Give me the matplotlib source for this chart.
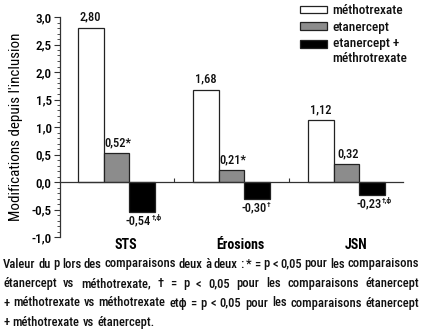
import matplotlib
matplotlib.use("Agg")
import matplotlib.pyplot as plt
from matplotlib import font_manager
from matplotlib.ticker import MultipleLocator, FuncFormatter, FixedLocator
from matplotlib.patches import Patch, Rectangle
from matplotlib.legend_handler import HandlerPatch
import numpy as np

# ---------------- data ----------------
categories = ["STS", "Érosions", "JSN"]
series_names = ["méthotrexate", "etanercept", "etanercept +\nméthrotrexate"]
mtx = [2.80, 1.68, 1.12]
eta = [0.52, 0.21, 0.32]
combo = [-0.54, -0.30, -0.23]
eta_marks = ["*", "*", ""]
combo_marks = ["†,ϕ", "†", "†,ϕ"]
ylabel = "Modifications depuis l'inclusion"
caption_lines = [
    "Valeur du p lors des comparaisons deux à deux : * = p < 0,05 pour les comparaisons",
    "étanercept vs méthotrexate, † = p < 0,05 pour les comparaisons étanercept",
    "+ méthotrexate vs méthotrexate etϕ = p < 0,05 pour les comparaisons étanercept",
    "+ méthotrexate vs étanercept.",
]

# ---------------- fonts ----------------
avail = {f.name for f in font_manager.fontManager.ttflist}
prefs = ["Liberation Sans Narrow", "Arial Narrow", "Roboto Condensed", "Archivo Narrow",
         "PT Sans Narrow", "Fira Sans Condensed", "IBM Plex Sans Condensed",
         "Open Sans Condensed", "Encode Sans Condensed", "Barlow Semi Condensed",
         "Liberation Sans"]
main = next(p for p in prefs if p in avail) if any(p in avail for p in prefs) else "DejaVu Sans"
FAM = [main, "DejaVu Sans"]
plt.rcParams["font.family"] = FAM
plt.rcParams["font.weight"] = 500
plt.rcParams["text.color"] = "#111111"

W, H = 421, 335
fig = plt.figure(figsize=(W / 100, H / 100), dpi=100)
ax = fig.add_axes([60 / W, 1 - 237 / H, (403 - 60) / W, (237 - 17) / H])

x = np.arange(len(categories))
bw = 0.223
colors = ["white", "#8c8c8c", "black"]
edge = "#222222"
vals = [mtx, eta, combo]
offs = [-bw, 0, bw]
bars = []
for v, o, c in zip(vals, offs, colors):
    bars.append(ax.bar(x + o, v, bw, color=c, edgecolor=edge, linewidth=0.9, zorder=2))

fs_val = 9
# value labels
for i, r in enumerate(bars[0]):
    ax.annotate(f"{mtx[i]:.2f}".replace(".", ","), (r.get_x() + r.get_width() / 2, mtx[i]),
                xytext=(0, 3), textcoords="offset points", ha="center", va="bottom", fontsize=fs_val)
for i, r in enumerate(bars[1]):
    ax.annotate(f"{eta[i]:.2f}".replace(".", ",") + eta_marks[i],
                (r.get_x() + r.get_width() / 2 + 0.01, eta[i]),
                xytext=(0, 3), textcoords="offset points", ha="center", va="bottom", fontsize=fs_val)
for i, r in enumerate(bars[2]):
    t = ax.annotate(f"{combo[i]:.2f}".replace(".", ","),
                    (r.get_x() + r.get_width() / 2 - 0.03, combo[i]),
                    xytext=(0, -2), textcoords="offset points", ha="center", va="top", fontsize=fs_val)
    ax.annotate(combo_marks[i], xy=(1, 1), xycoords=t, xytext=(0.3, 0.5), textcoords="offset points",
                ha="left", va="top", fontsize=5.5)

# axes styling
ax.set_xlim(-0.49, 2.49)
ax.set_ylim(-1.0, 3.0)
for s in ["top", "right"]:
    ax.spines[s].set_visible(False)
ax.spines["bottom"].set_position(("data", 0))
for s in ["left", "bottom"]:
    ax.spines[s].set_color("#333333")
    ax.spines[s].set_linewidth(0.9)
ax.yaxis.set_major_locator(MultipleLocator(0.5))
ax.yaxis.set_minor_locator(MultipleLocator(0.1))
ax.yaxis.set_major_formatter(FuncFormatter(lambda v, p: f"{v:.1f}".replace(".", ",")))
ax.tick_params(axis="y", which="major", length=4, width=0.8, labelsize=9.5, pad=2, color="#333333")
ax.tick_params(axis="y", which="minor", length=2, width=0.6, color="#333333")
ax.xaxis.set_major_locator(FixedLocator([0.5, 1.5]))
ax.xaxis.set_ticklabels([])
ax.tick_params(axis="x", which="major", direction="in", length=3, width=0.8, color="#333333")
ax.set_ylabel(ylabel, fontsize=10.8, labelpad=6)

sec = ax.secondary_xaxis(0.0)
sec.set_xticks(x + 0.08)
sec.set_xticklabels(categories, fontsize=10, fontweight="bold")
sec.tick_params(length=0, pad=1)
sec.spines["bottom"].set_visible(False)


# legend (two-line entry: box aligned with its first line)
def shifted_box(legend, orig_handle, xdescent, ydescent, width, height, fontsize):
    return Rectangle((-xdescent, -ydescent + 0.55 * fontsize), width, height)


handles = [Patch(facecolor=c, edgecolor=edge, linewidth=0.9) for c in colors]
leg = fig.legend(handles, series_names, loc="upper left", bbox_to_anchor=(295 / W, 1 + 1 / H),
                 frameon=False, fontsize=9.5, handlelength=2.0, handleheight=0.5,
                 handletextpad=0.45, labelspacing=0.25, borderaxespad=0,
                 handler_map={handles[2]: HandlerPatch(patch_func=shifted_box)})

# caption (justified)
left_px, right_px = 3, 419
baselines = [267.5, 287, 306.5, 326]
renderer = fig.canvas.get_renderer()


def measure(s, fs):
    t = fig.text(0, 0, s, fontsize=fs)
    w = t.get_window_extent(renderer).width
    t.remove()
    return w


# size the caption so that the widest line (words + narrow spaces) just fits
ref_fs = 10.0
sp_ref = 0.22 * ref_fs * 100 / 72
need = []
for line in caption_lines[:-1]:
    ws = line.split(" ")
    need.append(sum(measure(w, ref_fs) for w in ws) + (len(ws) - 1) * sp_ref)
fs_cap = min(10.5, ref_fs * (right_px - left_px) / max(need))

for li, (line, by) in enumerate(zip(caption_lines, baselines)):
    words = line.split(" ")
    texts = [fig.text(0, 1 - by / H, w, fontsize=fs_cap, va="baseline", ha="left") for w in words]
    widths = [t.get_window_extent(renderer).width for t in texts]
    if li < len(caption_lines) - 1 and len(words) > 1:
        gap = (right_px - left_px - sum(widths)) / (len(words) - 1)
    else:
        gap = 0.26 * fs_cap * 100 / 72
    xpos = left_px
    for t, wdt in zip(texts, widths):
        t.set_x(xpos / W)
        xpos += wdt + gap

fig.savefig("out.png", dpi=100)
